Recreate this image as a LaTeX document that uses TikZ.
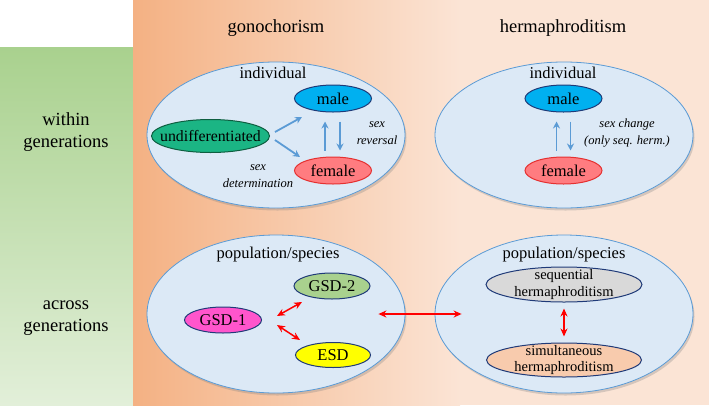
\documentclass[tikz,border=0pt]{standalone}
\usepackage{fontspec}
\setmainfont{Liberation Serif}
\newfontfamily\tnr{Liberation Serif}
\usetikzlibrary{shapes.geometric,arrows.meta,shadows}
\definecolor{grtop}{HTML}{A9D18E}
\definecolor{grbot}{HTML}{E2EFD9}
\definecolor{orleft}{HTML}{F4B183}
\definecolor{orright}{HTML}{FBE4D5}
\definecolor{bigfill}{HTML}{DCE9F6}
\definecolor{bigline}{HTML}{5B9BD5}
\definecolor{navy}{HTML}{1F3A78}
\definecolor{malefill}{HTML}{00B0F0}
\definecolor{undfill}{HTML}{1BB584}
\definecolor{undline}{HTML}{0E5E40}
\definecolor{femfill}{HTML}{FF7C80}
\definecolor{femline}{HTML}{E53030}
\definecolor{gsdone}{HTML}{FF55CC}
\definecolor{gsdtwo}{HTML}{A9D18E}
\definecolor{esdfill}{HTML}{FFFF00}
\definecolor{seqfill}{HTML}{D9D9D9}
\definecolor{simfill}{HTML}{F8CBAD}
\definecolor{barrowc}{HTML}{5B9BD5}
\tikzset{
  bigell/.style={ellipse, draw=bigline, line width=0.8pt, fill=bigfill,
    minimum width=258pt, inner sep=0pt,
    drop shadow={shadow xshift=1.5pt, shadow yshift=-2.5pt, opacity=0.3}},
  smallell/.style={ellipse, draw=navy, line width=1pt, inner sep=0pt},
  inlbl/.style={font=\tnr\fontsize{16.5}{18}\selectfont, inner sep=0pt},
  lbl/.style={font=\tnr\fontsize{16.5}{19}\selectfont, inner sep=0pt},
  twolbl/.style={font=\tnr\fontsize{14.5}{16.5}\selectfont, align=center, inner sep=0pt},
  title/.style={font=\tnr\fontsize{18.5}{20}\selectfont, inner sep=0pt},
  sidelbl/.style={font=\tnr\fontsize{18.5}{22}\selectfont, align=center, inner sep=0pt},
  itlbl/.style={font=\tnr\fontsize{12.5}{16.5}\selectfont\itshape, align=center, inner sep=0pt},
  barrow/.style={-{Stealth[length=7pt,width=7pt]}, line width=1.8pt, draw=barrowc},
  rarrow/.style={{Stealth[length=8pt,width=7pt]}-{Stealth[length=8pt,width=7pt]}, line width=1.5pt, draw=red},
}
\begin{document}
\begin{tikzpicture}[x=1pt,y=-1pt]
\useasboundingbox (0,0) rectangle (709,405);
% backgrounds
\fill[white] (0,0) rectangle (709,405);
\shade[top color=grtop, bottom color=grbot] (0,47) rectangle (133,405);
\shade[left color=orleft, right color=orright] (133,0) rectangle (460,405);
\fill[orright] (459.5,0) rectangle (709,405);
% headers
\node[title] (tg) at (276,28) {gonochorism};
\node[title] (th) at (563,28) {hermaphroditism};
\node[sidelbl] (lw) at (66,132) {within\\generations};
\node[sidelbl] (la) at (66,318) {across\\generations};
% big ellipses
\node[bigell, minimum height=146pt] (indA) at (276,135) {};
\node[bigell, minimum height=146pt] (indB) at (564,135) {};
\node[bigell, minimum height=158pt] (popA) at (276,314) {};
\node[bigell, minimum height=158pt] (popB) at (564,314) {};
% top-left
\node[lbl] (iA) at (273,73) {individual};
\node[smallell, fill=malefill, minimum width=77pt, minimum height=27pt] (maleA) at (333,98.5) {};
\node[inlbl] (maleAt) at (maleA) {male};
\node[smallell, fill=undfill, draw=undline, minimum width=118pt, minimum height=33pt] (und) at (210.5,136) {};
\node[inlbl, font=\tnr\fontsize{15.8}{18}\selectfont] (undt) at (und) {undifferentiated};
\node[smallell, fill=femfill, draw=femline, minimum width=77pt, minimum height=27pt] (femA) at (333,170.5) {};
\node[inlbl] (femAt) at (femA) {female};
\coordinate (u1) at (275,132);
\coordinate (m1) at (302,117);
\coordinate (u2) at (275,140);
\coordinate (f2) at (300,157);
\draw[barrow] (u1) -- (m1);
\draw[barrow] (u2) -- (f2);
\draw[barrow, shorten <=6pt, shorten >=9pt] ([xshift=-8pt]femA.north) -- ([xshift=-8pt]maleA.south);
\draw[barrow, shorten <=9pt, shorten >=6pt] ([xshift=7pt]maleA.south) -- ([xshift=7pt]femA.north);
\node[itlbl] (srev) at (377,133) {sex\\reversal};
\node[itlbl] (sdet) at (258,176) {sex\\determination};
% top-right
\node[lbl] (iB) at (563,73) {individual};
\node[smallell, fill=malefill, minimum width=77pt, minimum height=27pt] (maleB) at (563.5,98.5) {};
\node[inlbl] (maleBt) at (maleB) {male};
\node[smallell, fill=femfill, draw=femline, minimum width=77pt, minimum height=27pt] (femB) at (563.5,170.5) {};
\node[inlbl] (femBt) at (femB) {female};
\draw[barrow, shorten <=6pt, shorten >=9pt] ([xshift=-7pt]femB.north) -- ([xshift=-7pt]maleB.south);
\draw[barrow, shorten <=9pt, shorten >=6pt] ([xshift=7pt]maleB.south) -- ([xshift=7pt]femB.north);
\node[itlbl] (sch) at (627,133) {sex change\\(only seq. herm.)};
% bottom-left
\node[lbl] (pA) at (278,255) {population/species};
\node[smallell, fill=gsdtwo, minimum width=76pt, minimum height=26pt] (g2) at (332,286) {};
\node[inlbl] (g2t) at (g2) {GSD-2};
\node[smallell, fill=gsdone, minimum width=77pt, minimum height=26pt] (g1) at (223,320) {};
\node[inlbl] (g1t) at (g1) {GSD-1};
\node[smallell, fill=esdfill, minimum width=75pt, minimum height=25pt] (esd) at (333,355) {};
\node[inlbl] (esdt) at (esd) {ESD};
\coordinate (r1a) at (277,316);
\coordinate (r1b) at (302,302);
\coordinate (r2a) at (277,325);
\coordinate (r2b) at (300,340);
\draw[rarrow] (r1a) -- (r1b);
\draw[rarrow] (r2a) -- (r2b);
% cross arrow
\draw[rarrow] ([xshift=-27pt]popA.east) -- ([xshift=27pt]popB.west);
% bottom-right
\node[lbl] (pB) at (564,255) {population/species};
\node[smallell, fill=seqfill, minimum width=156pt, minimum height=35pt] (seq) at (564,284.5) {};
\node[twolbl] (seqt) at (seq) {sequential\\hermaphroditism};
\node[smallell, fill=simfill, minimum width=155pt, minimum height=34pt] (sim) at (564,360) {};
\node[twolbl] (simt) at (sim) {simultaneous\\hermaphroditism};
\draw[rarrow, shorten <=6pt, shorten >=6pt] (seq.south) -- (sim.north);
\end{tikzpicture}
\end{document}
